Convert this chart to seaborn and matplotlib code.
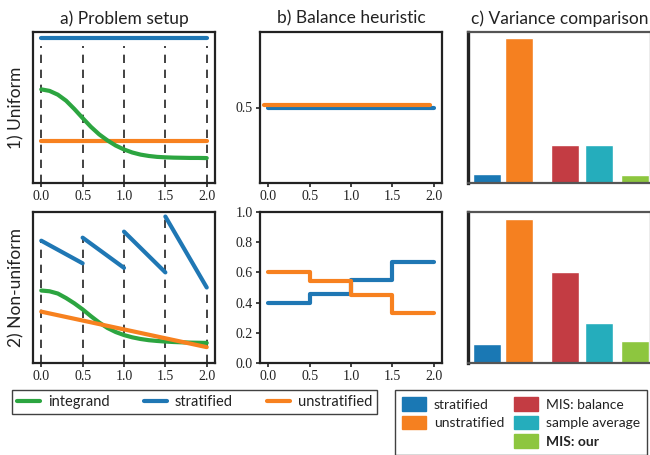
import numpy as np
import pandas as pd
import matplotlib
matplotlib.use("Agg")
import matplotlib.pyplot as plt
import matplotlib.transforms as mtransforms
from matplotlib.patches import Patch
from matplotlib.lines import Line2D
import seaborn as sns

# ---------------- data ----------------
x_fine = [0.0, 0.1, 0.2, 0.3, 0.4, 0.5, 0.6, 0.7, 0.8, 0.9, 1.0,
          1.1, 1.2, 1.3, 1.4, 1.5, 1.6, 1.7, 1.8, 1.9, 2.0]
integrand_uniform = [0.62, 0.61, 0.585, 0.545, 0.49, 0.43, 0.372, 0.322, 0.282, 0.248,
                     0.222, 0.202, 0.188, 0.179, 0.173, 0.170, 0.168, 0.167, 0.166, 0.166, 0.165]
integrand_nonuniform = [0.48, 0.475, 0.46, 0.43, 0.395, 0.355, 0.31, 0.268, 0.232, 0.205,
                        0.185, 0.170, 0.159, 0.151, 0.146, 0.142, 0.139, 0.137, 0.135, 0.134, 0.133]
strata_edges = [0.0, 0.5, 1.0, 1.5, 2.0]
stratified_uniform = 0.96
unstratified_uniform = 0.28
# non-uniform stratified pdf: start/end value of each stratum
strat_nu_start = [0.81, 0.83, 0.87, 0.97]
strat_nu_end = [0.66, 0.63, 0.60, 0.50]
unstrat_nu_x = [0.0, 2.0]
unstrat_nu_y = [0.34, 0.105]

balance_uniform_strat = 0.5
balance_uniform_unstrat = 0.5
balance_nu_strat = [0.40, 0.46, 0.55, 0.67]
balance_nu_unstrat = [0.60, 0.54, 0.45, 0.33]

methods = ["stratified", "unstratified", "MIS: balance", "sample average", "MIS: our"]
variance_uniform = [0.063, 1.0, 0.26, 0.26, 0.056]
variance_nonuniform = [0.133, 1.0, 0.63, 0.28, 0.154]

xticks = [0.0, 0.5, 1.0, 1.5, 2.0]
col_titles = ["a) Problem setup", "b) Balance heuristic", "c) Variance comparison"]
row_labels = ["1) Uniform", "2) Non-uniform"]

# ---------------- style ----------------
C_BLUE = "#1f77b4"
C_ORANGE = "#f7811f"
C_GREEN = "#2ca540"
bar_colors = ["#1a78b4", "#f58020", "#c33c43", "#25adbc", "#8dc63f"]
SPINE = "#222222"
TXT = "#222222"

sns.set_theme(style="ticks")
plt.rcParams["font.family"] = ["Lato", "DejaVu Sans"]
plt.rcParams["text.color"] = TXT
plt.rcParams["axes.labelcolor"] = TXT

W, H = 650, 455
fig = plt.figure(figsize=(W / 100, H / 100), dpi=100)


def ax_px(x0, y0, x1, y1):
    return fig.add_axes([x0 / W, 1 - y1 / H, (x1 - x0) / W, (y1 - y0) / H])


rows_y = [(32, 183), (212, 363)]
cols_x = [(33, 215), (260, 442), (468, 651)]
axes = [[ax_px(cx[0], ry[0], cx[1], ry[1]) for cx in cols_x] for ry in rows_y]

LW = 3.0
TICKFONT = "Liberation Serif"


def style_axes(ax, xt=True):
    for s in ax.spines.values():
        s.set_color(SPINE)
        s.set_linewidth(1.6)
    ax.tick_params(axis="both", length=3, width=1.2, color=SPINE, labelsize=10,
                   labelcolor=TXT, labelfontfamily=TICKFONT, pad=2)
    if xt:
        ax.set_xlim(-0.1, 2.1)
        ax.set_xticks(xticks)
        ax.set_xticklabels([f"{v:.1f}" for v in xticks])


# ---- a) Problem setup, uniform ----
ax = axes[0][0]
sns.lineplot(x=[0.0, 2.0], y=[stratified_uniform] * 2, color=C_BLUE, lw=LW, ax=ax)
sns.lineplot(x=[0.0, 2.0], y=[unstratified_uniform] * 2, color=C_ORANGE, lw=LW, ax=ax)
sns.lineplot(x=x_fine, y=integrand_uniform, color=C_GREEN, lw=LW, ax=ax)
ax.vlines(strata_edges, 0.0, stratified_uniform - 0.05, colors="#222222",
          linestyles=(0, (5, 4)), lw=1.2, zorder=1)
ax.set_ylim(0, 1)
ax.set_yticks([])
style_axes(ax)

# ---- a) Problem setup, non-uniform ----
ax = axes[1][0]
seg_rows = []
for i in range(4):
    seg_rows.append({"x": strata_edges[i], "y": strat_nu_start[i], "seg": i})
    seg_rows.append({"x": strata_edges[i + 1], "y": strat_nu_end[i], "seg": i})
seg_df = pd.DataFrame(seg_rows)
sns.lineplot(data=seg_df, x="x", y="y", units="seg", estimator=None,
             color=C_BLUE, lw=LW, ax=ax)
sns.lineplot(x=x_fine, y=integrand_nonuniform, color=C_GREEN, lw=LW, ax=ax)
sns.lineplot(x=unstrat_nu_x, y=unstrat_nu_y, color=C_ORANGE, lw=LW, ax=ax)
tops = [strat_nu_start[0]] + [max(strat_nu_end[i], strat_nu_start[i + 1]) for i in range(3)] + [strat_nu_end[3]]
ax.vlines(strata_edges, 0.0, tops, colors="#222222",
          linestyles=(0, (5, 4)), lw=1.2, zorder=1)
ax.set_ylim(0, 1)
ax.set_yticks([])
style_axes(ax)

# ---- b) Balance heuristic, uniform ----
ax = axes[0][1]
sns.lineplot(x=[0.0, 2.0], y=[balance_uniform_strat] * 2, color=C_BLUE, lw=LW, ax=ax)
off = mtransforms.ScaledTranslation(-4 / 100, 2.5 / 100, fig.dpi_scale_trans)
sns.lineplot(x=[0.0, 2.0], y=[balance_uniform_unstrat] * 2, color=C_ORANGE, lw=LW, ax=ax)
ax.lines[-1].set_transform(ax.transData + off)
ax.set_ylim(0, 1)
ax.set_yticks([0.5])
ax.set_yticklabels(["0.5"])
style_axes(ax)

# ---- b) Balance heuristic, non-uniform ----
ax = axes[1][1]
sns.lineplot(x=strata_edges, y=balance_nu_strat + [balance_nu_strat[-1]],
             drawstyle="steps-post", color=C_BLUE, lw=LW, ax=ax)
sns.lineplot(x=strata_edges, y=balance_nu_unstrat + [balance_nu_unstrat[-1]],
             drawstyle="steps-post", color=C_ORANGE, lw=LW, ax=ax)
ax.set_ylim(0, 1)
yt = [0.0, 0.2, 0.4, 0.6, 0.8, 1.0]
ax.set_yticks(yt)
ax.set_yticklabels([f"{v:.1f}" for v in yt])
style_axes(ax)

# ---- c) Variance comparison ----
bar_pos = [0.0, 1.0, 2.45, 3.52, 4.62]
for r, (vals, top) in enumerate([(variance_uniform, 1.042), (variance_nonuniform, 1.045)]):
    ax = axes[r][2]
    df = pd.DataFrame({"pos": bar_pos, "var": vals, "method": methods})
    sns.barplot(data=df, x="pos", y="var", hue="method", hue_order=methods,
                palette=bar_colors, native_scale=True, dodge=False, width=0.875,
                legend=False, ax=ax, saturation=1)
    ax.set_xlim(-0.58, 5.13)
    ax.set_ylim(0, top)
    ax.set_xticks([])
    ax.set_yticks([])
    for s in ax.spines.values():
        s.set_color("#555555")
        s.set_linewidth(1.6)
    ax.spines["left"].set_color("#222222")
    ax.spines["left"].set_linewidth(2.4)

for row in axes:
    for ax in row:
        ax.set_xlabel("")
        ax.set_ylabel("")

for j, t in enumerate(col_titles):
    axes[0][j].set_title(t, fontsize=12.5, color=TXT, pad=6)
for i, t in enumerate(row_labels):
    axes[i][0].set_ylabel(t, fontsize=12.5, color=TXT, labelpad=6)

# ---- legends ----
h1 = [Line2D([], [], color=C_GREEN, lw=3), Line2D([], [], color=C_BLUE, lw=3),
      Line2D([], [], color=C_ORANGE, lw=3)]
leg1 = fig.legend(h1, ["integrand", "stratified", "unstratified"], ncol=3,
                  loc="upper left", bbox_to_anchor=(12 / W, 1 - 390 / H),
                  borderaxespad=0, frameon=True, fancybox=False, fontsize=10.5,
                  handlelength=1.6, columnspacing=2.3, handletextpad=0.55,
                  borderpad=0.35)
leg1.get_frame().set_edgecolor("#111111")
leg1.get_frame().set_linewidth(1.0)

h2 = [Patch(color=bar_colors[0]), Patch(color=bar_colors[1]), Patch(color="none"),
      Patch(color=bar_colors[2]), Patch(color=bar_colors[3]), Patch(color=bar_colors[4])]
labs2 = [methods[0], methods[1], "", methods[2], methods[3], methods[4]]
leg2 = fig.legend(h2, labs2, ncol=2, loc="upper left",
                  bbox_to_anchor=(395 / W, 1 - 390 / H), borderaxespad=0,
                  frameon=True, fancybox=False, fontsize=10,
                  handlelength=1.75, handleheight=1.15, labelspacing=0.35,
                  columnspacing=0.7, handletextpad=0.55, borderpad=0.5)
leg2.get_frame().set_edgecolor("#111111")
leg2.get_frame().set_linewidth(1.0)
leg2.get_texts()[5].set_fontweight("bold")

fig.savefig("out.png", dpi=100)
